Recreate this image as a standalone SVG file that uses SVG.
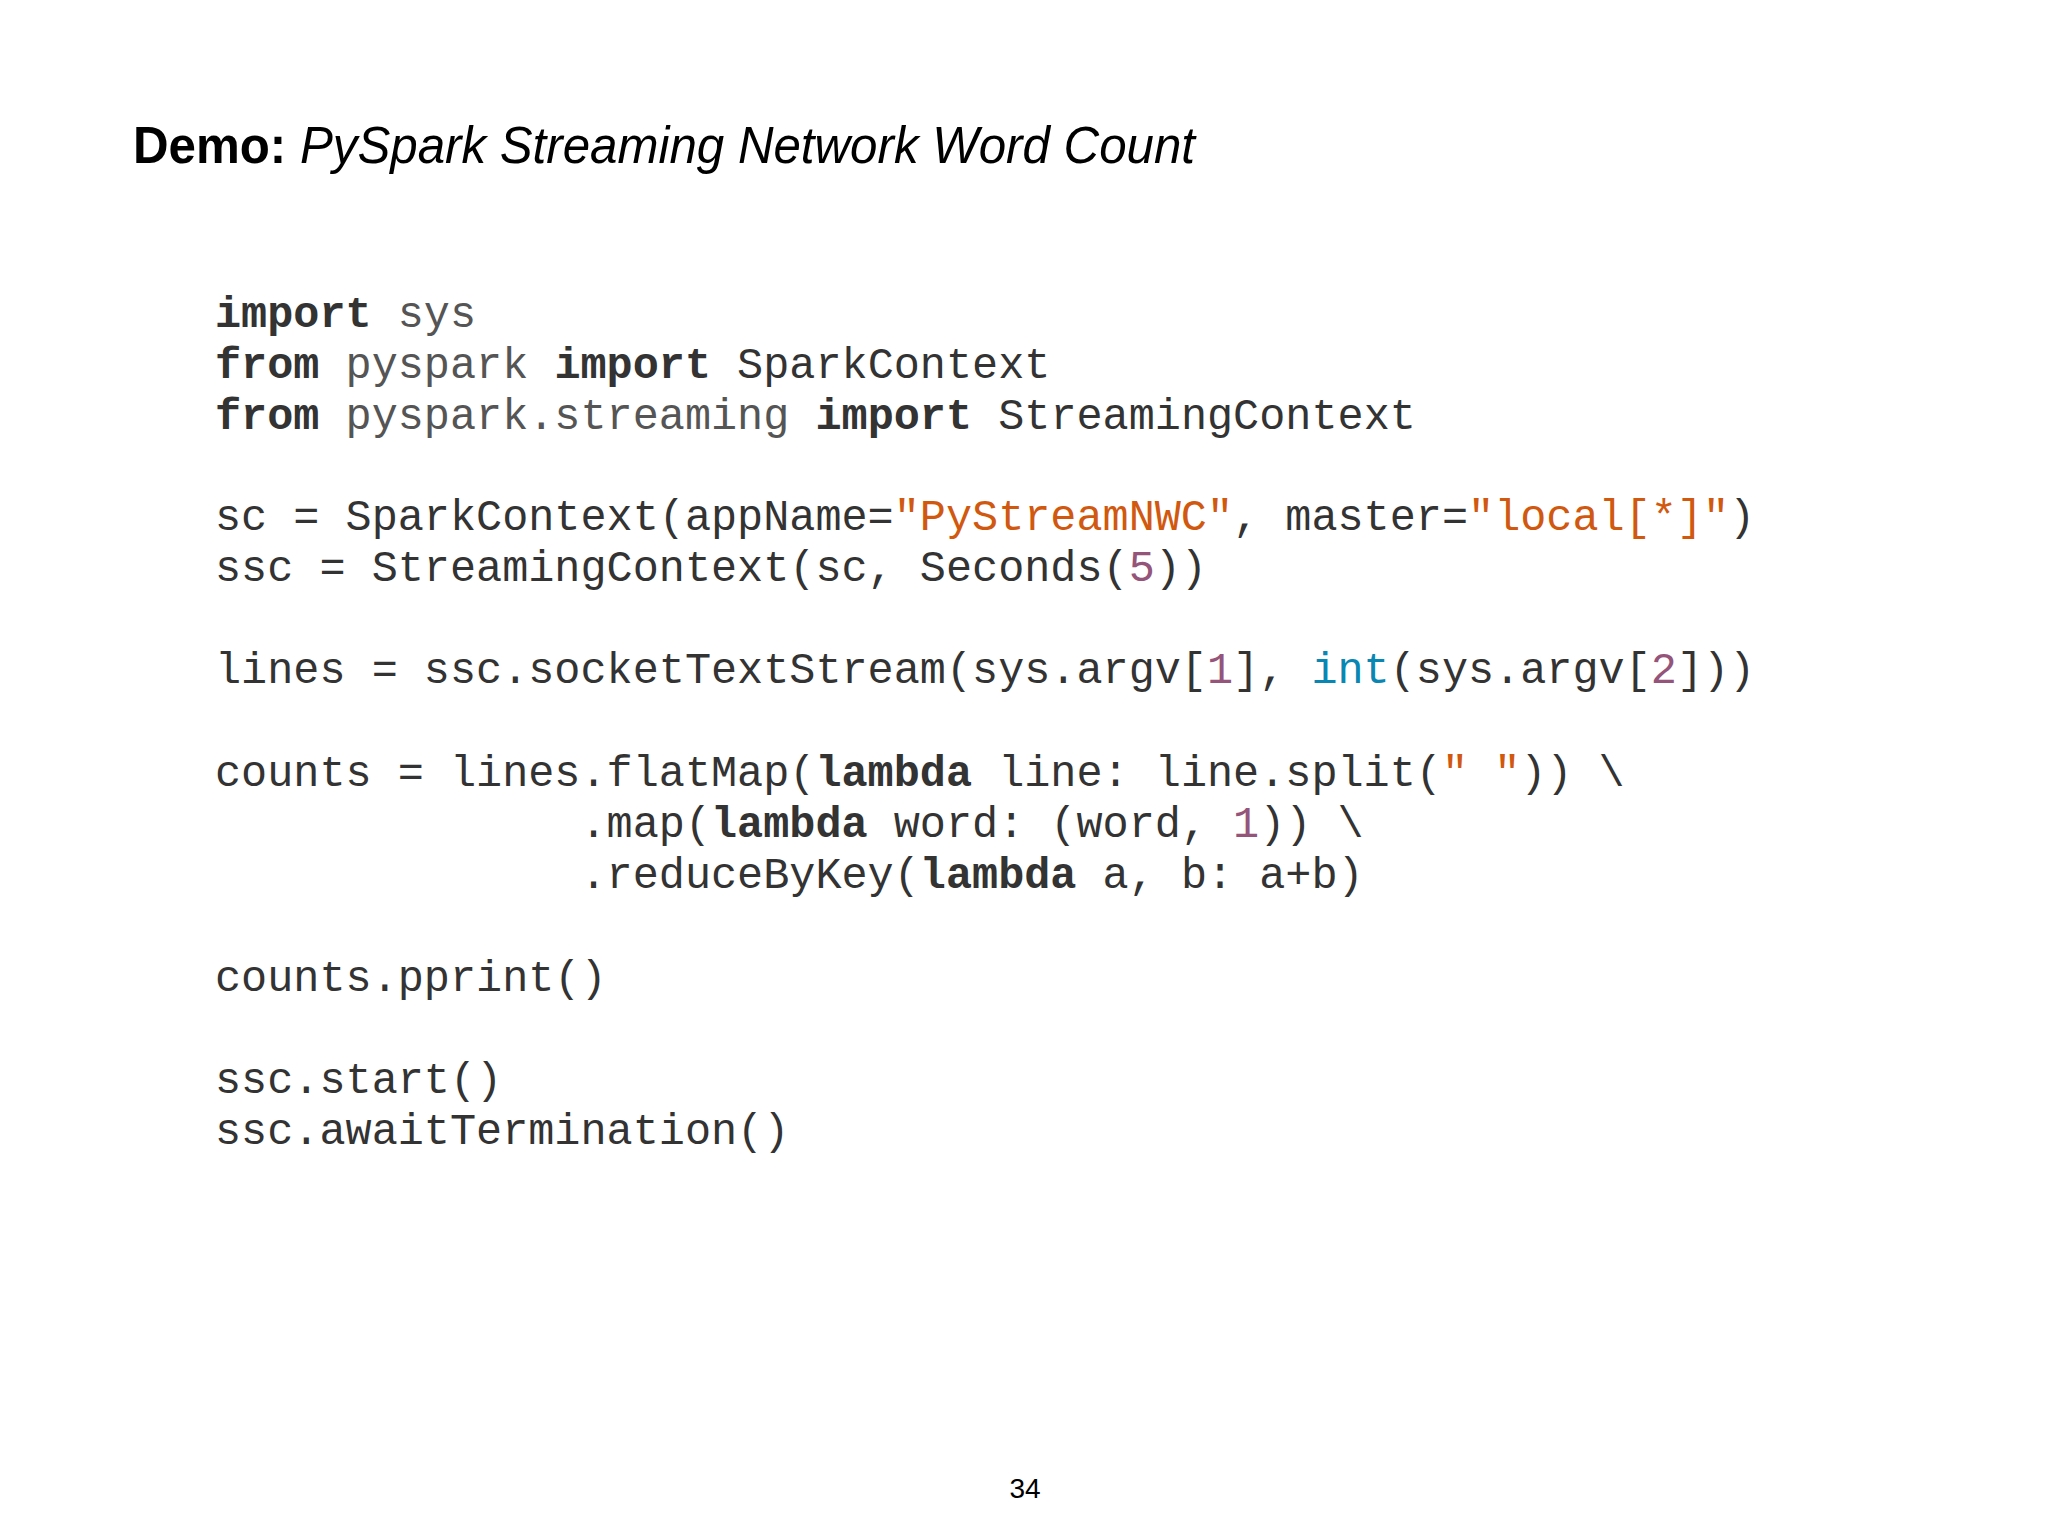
<svg xmlns="http://www.w3.org/2000/svg" width="2048" height="1536" viewBox="0 0 2048 1536">
<style>
.c{font-family:"Liberation Mono","DejaVu Sans Mono",monospace;font-size:43.5px;fill:#333;white-space:pre}
.k{font-weight:bold;fill:#333}
.m{fill:#555}
.s{fill:#d1580f}
.n{fill:#955479}
.b{fill:#0a86b3}
</style>
<rect width="2048" height="1536" fill="#fff"/>
<g id="title">
<text x="133" y="163" font-family="'Liberation Sans',sans-serif" font-size="52" fill="#000" textLength="1062" lengthAdjust="spacingAndGlyphs"><tspan font-weight="bold">Demo: </tspan><tspan font-style="italic">PySpark Streaming Network Word Count</tspan></text>
</g>
<g id="code" xml:space="preserve">
<text class="c" x="215" y="327"><tspan class="k">import</tspan> <tspan class="m">sys</tspan></text>
<text class="c" x="215" y="378"><tspan class="k">from</tspan> <tspan class="m">pyspark</tspan> <tspan class="k">import</tspan> SparkContext</text>
<text class="c" x="215" y="429"><tspan class="k">from</tspan> <tspan class="m">pyspark.streaming</tspan> <tspan class="k">import</tspan> StreamingContext</text>
<text class="c" x="215" y="530">sc = SparkContext(appName=<tspan class="s">"PyStreamNWC"</tspan>, master=<tspan class="s">"local[*]"</tspan>)</text>
<text class="c" x="215" y="581">ssc = StreamingContext(sc, Seconds(<tspan class="n">5</tspan>))</text>
<text class="c" x="215" y="683">lines = ssc.socketTextStream(sys.argv[<tspan class="n">1</tspan>], <tspan class="b">int</tspan>(sys.argv[<tspan class="n">2</tspan>]))</text>
<text class="c" x="215" y="786">counts = lines.flatMap(<tspan class="k">lambda</tspan> line: line.split(<tspan class="s">" "</tspan>)) \</text>
<text class="c" x="215" y="837">              .map(<tspan class="k">lambda</tspan> word: (word, <tspan class="n">1</tspan>)) \</text>
<text class="c" x="215" y="888">              .reduceByKey(<tspan class="k">lambda</tspan> a, b: a+b)</text>
<text class="c" x="215" y="991">counts.pprint()</text>
<text class="c" x="215" y="1093">ssc.start()</text>
<text class="c" x="215" y="1144">ssc.awaitTermination()</text>
</g>
<g id="page">
<text x="1025" y="1498" font-family="'Liberation Sans',sans-serif" font-size="28" fill="#000" text-anchor="middle">34</text>
</g>
</svg>
